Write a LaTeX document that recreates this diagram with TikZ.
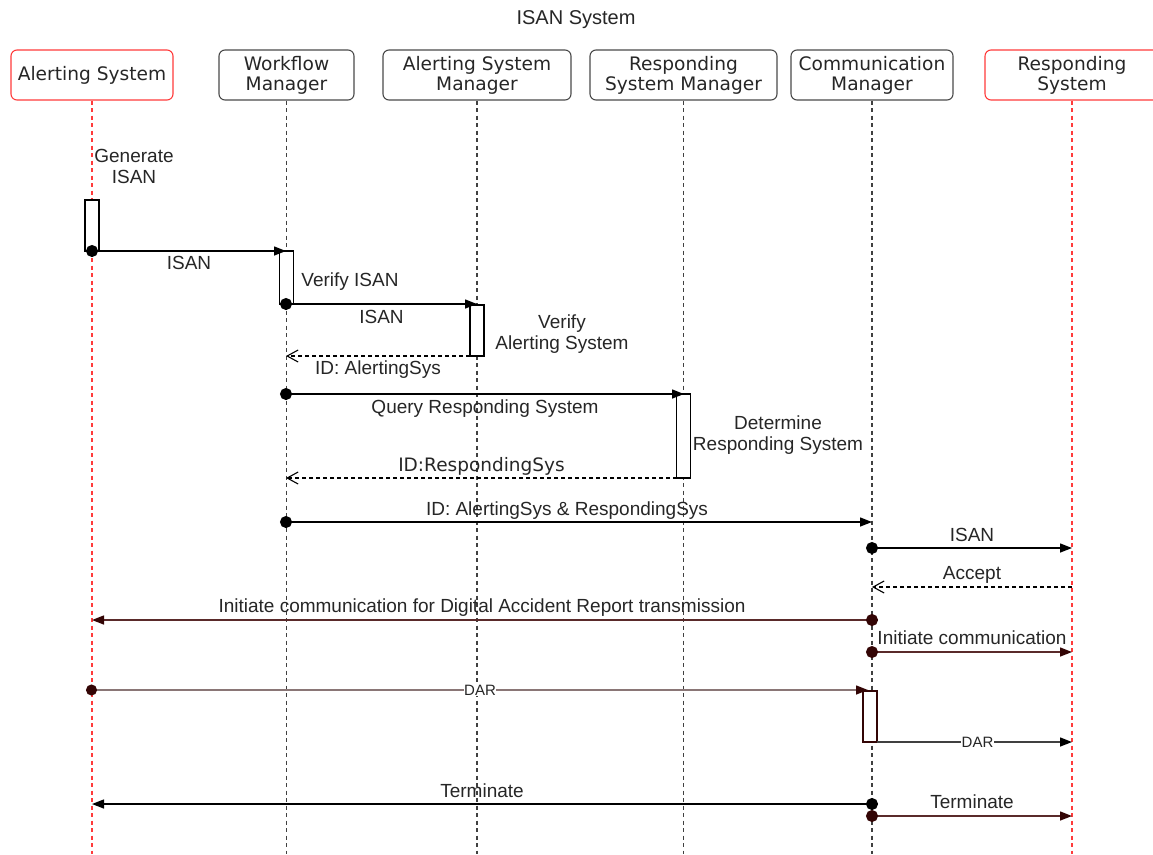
\documentclass[tikz,border=0pt]{standalone}
\usepackage{fontspec}
\setmainfont{Liberation Sans}
\newfontfamily\hdfont{DejaVu Sans}
\usepackage{xcolor}
\usetikzlibrary{arrows.meta}

\definecolor{brdot}{HTML}{330505}
\definecolor{brline}{HTML}{5A2A2A}
\definecolor{darline}{HTML}{8A7676}
\definecolor{boxgrey}{HTML}{4A4A4A}
\definecolor{lred}{HTML}{FF3B3B}

\tikzset{
  hdr/.style={draw=boxgrey, rounded corners=6pt, line width=1.1pt, minimum height=50pt,
    font=\hdfont\fontsize{18.6}{20}\selectfont, align=center, inner sep=2pt, text=black!85},
  hdrR/.style={hdr, draw=lred},
  life/.style={line width=1.1pt, dash pattern=on 4pt off 3.5pt, black!75},
  lifeR/.style={life, lred},
  act/.style={draw, line width=1.4pt, fill=white, minimum width=14pt, inner sep=0pt},
  msg/.style={line width=1.4pt, {Circle[length=12pt]}-{Triangle[length=12pt,width=9pt]}, shorten <=-6pt},
  ret/.style={line width=1.1pt, dash pattern=on 4pt off 3pt, -{Straight Barb[length=11pt,width=12pt]}},
  lbl/.style={font=\fontsize{19}{21}\selectfont, text=black!85, text height=13.5pt, text depth=4pt, inner sep=0pt},
  note/.style={font=\fontsize{19}{21}\selectfont, text=black!85, align=center, inner sep=0pt},
  darlbl/.style={font=\fontsize{15}{17}\selectfont, fill=white, inner sep=0.5pt, text=black!85}
}

\begin{document}
\begin{tikzpicture}[x=1pt, y=-1pt]
\useasboundingbox (0,0) rectangle (1153,854);

\node (title) at (576,20) [font=\fontsize{20}{24}\selectfont, text=black!85] {ISAN System};

% lifeline heads
\node (as)  at (92,75)   [hdrR, minimum width=162pt] {Alerting System};
\node (wm)  at (286.5,75) [hdr, minimum width=135pt] {Workflow\\Manager};
\node (asm) at (477,75)  [hdr, minimum width=188pt] {Alerting System\\Manager};
\node (rsm) at (683.5,75) [hdr, minimum width=187pt] {Responding\\System Manager};
\node (cm)  at (872,75)  [hdr, minimum width=162pt] {Communication\\Manager};
\node (rs)  at (1072,75) [hdrR, minimum width=174pt] {Responding\\System};

\coordinate (asB)  at (92,854);
\coordinate (wmB)  at (286.5,854);
\coordinate (asmB) at (477,854);
\coordinate (rsmB) at (683.5,854);
\coordinate (cmB)  at (872,854);
\coordinate (rsB)  at (1072,854);
\draw [lifeR] (as) -- (asB);
\draw [life]  (wm) -- (wmB);
\draw [life]  (asm) -- (asmB);
\draw [life]  (rsm) -- (rsmB);
\draw [life]  (cm) -- (cmB);
\draw [lifeR] (rs) -- (rsB);

% activations
\node (a1) at (92,225.5)  [act, minimum height=51pt] {};
\node (a2) at (286.5,277.5) [act, minimum height=53pt] {};
\node (a3) at (477,330.5)  [act, minimum height=51pt] {};
\node (a4) at (683.5,436) [act, minimum height=84pt] {};
\node (a5) at (870,716.5)  [act, minimum height=51pt, draw=brdot] {};

% notes
\node (n1) at (134,166) [note] {Generate\\ISAN};
\node (n2) at (350,282) [note] {Verify ISAN};
\node (n3) at (562,334) [note] {Verify\\Alerting System};
\node (n4) at (778,435) [note] {Determine\\Responding System};

% messages
\coordinate (m1s) at (92,251);    \coordinate (m1e) at (286,251);
\coordinate (m2s) at (286,304);   \coordinate (m2e) at (477,304);
\coordinate (m3s) at (470,356);   \coordinate (m3e) at (286,356);
\coordinate (m4s) at (286,394);   \coordinate (m4e) at (684,394);
\coordinate (m5s) at (677,478);   \coordinate (m5e) at (286,478);
\coordinate (m6s) at (286,522);   \coordinate (m6e) at (872,522);
\coordinate (m7s) at (872,548);   \coordinate (m7e) at (1072,548);
\coordinate (m8s) at (1072,587);  \coordinate (m8e) at (872,587);
\coordinate (m9s) at (872,620);   \coordinate (m9e) at (92,620);
\coordinate (m10s) at (872,652);  \coordinate (m10e) at (1072,652);
\coordinate (m11s) at (92,690);   \coordinate (m11e) at (868,690);
\coordinate (m12s) at (877,742);  \coordinate (m12e) at (1072,742);
\coordinate (m13s) at (872,804);  \coordinate (m13e) at (92,804);
\coordinate (m14s) at (872,816);  \coordinate (m14e) at (1072,816);

\draw [msg] (m1s) -- node[lbl, yshift=-14pt] {ISAN} (m1e);
\draw [msg] (m2s) -- node[lbl, yshift=-15pt] {ISAN} (m2e);
\draw [ret] (m3s) -- node[lbl, yshift=-14pt] {ID: AlertingSys} (m3e);
\draw [msg] (m4s) -- node[lbl, yshift=-15pt] {Query Responding System} (m4e);
\draw [ret] (m5s) -- node[lbl, yshift=11pt, font=\hdfont\fontsize{18.5}{20}\selectfont] {ID:RespondingSys} (m5e);
\draw [msg] (m6s) -- node[lbl, yshift=11pt, xshift=-12pt] {ID: AlertingSys \& RespondingSys} (m6e);
\draw [msg] (m7s) -- node[lbl, yshift=11pt] {ISAN} (m7e);
\draw [ret] (m8s) -- node[lbl, yshift=12pt] {Accept} (m8e);
\draw [msg, brline, {Circle[length=12pt,color=brdot]}-{Triangle[length=12pt,width=9pt,color=brdot]}] (m9s) -- node[lbl, yshift=12pt] {Initiate communication for Digital Accident Report transmission} (m9e);
\draw [msg, brline, {Circle[length=12pt,color=brdot]}-{Triangle[length=12pt,width=9pt,color=brdot]}] (m10s) -- node[lbl, yshift=12pt] {Initiate communication} (m10e);
\draw [msg, darline, {Circle[length=11pt,color=brdot]}-{Triangle[length=12pt,width=9pt,color=brdot]}] (m11s) -- node[darlbl] {DAR} (m11e);
\draw [line width=1.4pt, black!75, -{Triangle[length=12pt,width=9pt,color=black]}] (m12s) -- node[darlbl, xshift=3pt] {DAR} (m12e);
\draw [msg] (m13s) -- node[lbl, yshift=11pt] {Terminate} (m13e);
\draw [msg, brline, {Circle[length=12pt,color=brdot]}-{Triangle[length=12pt,width=9pt,color=brdot]}] (m14s) -- node[lbl, yshift=12pt] {Terminate} (m14e);
\end{tikzpicture}
\end{document}
